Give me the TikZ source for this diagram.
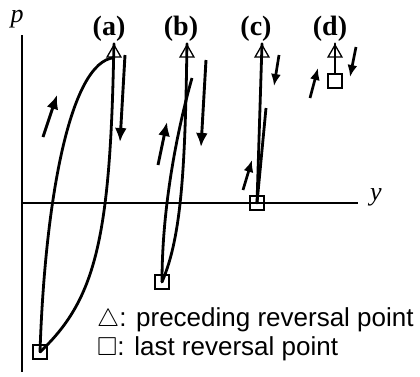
\documentclass[tikz,border=0pt]{standalone}
\usepackage{fontspec}
\usepackage{amssymb}
\setmainfont{Liberation Serif}
\newfontfamily\legfont{Liberation Sans}
\usetikzlibrary{arrows.meta,shapes.geometric}
\begin{document}
\begin{tikzpicture}[x=1pt,y=-1pt,
  curve/.style={line width=2.8pt},
  axisline/.style={line width=1.3pt},
  marksq/.style={draw,line width=1.2pt,rectangle,minimum size=14pt,inner sep=0pt},
  marktri/.style={draw,line width=1.3pt,regular polygon,regular polygon sides=3,minimum size=16pt,inner sep=0pt},
  bigarr/.style={line width=2.9pt,-{Latex[length=14pt,width=12pt]}},
  smallarr/.style={line width=2.7pt,-{Latex[length=12pt,width=10pt]}},
  lab/.style={font=\fontsize{28}{28}\selectfont\bfseries,inner sep=0pt},
  axlab/.style={font=\fontsize{26}{26}\selectfont\itshape,inner sep=0pt},
  leg/.style={font=\legfont\fontsize{26}{26}\selectfont,anchor=west,inner sep=0pt}
]
\useasboundingbox (0,0) rectangle (420,376);
% axes
\coordinate (ytop) at (22,35);
\coordinate (ybot) at (22,372);
\coordinate (o) at (22,203);
\coordinate (xend) at (358,203);
\draw[axisline] (ytop) -- (ybot);
\draw[axisline] (o) -- (xend);
\node[axlab] (plab) at (17,19) {p};
\node[axlab] (ylab) at (376,197) {y};
% labels
\node[lab] (la) at (109,29) {(a)};
\node[lab] (lb) at (181,29) {(b)};
\node[lab] (lc) at (256,29) {(c)};
\node[lab] (ld) at (330,29) {(d)};
% markers
\node[marksq] (sqa) at (40,352) {};
\node[marksq] (sqb) at (162,282) {};
\node[marksq] (sqc) at (257,203) {};
\node[marksq] (sqd) at (335,81) {};
\node[marktri] (tria) at (114,53) {};
\node[marktri] (trib) at (187,53) {};
\node[marktri] (tric) at (262,53) {};
\node[marktri] (trid) at (335,53) {};
\coordinate (btop) at (192,78);
\coordinate (ctop) at (266,108);
% curves
\draw[curve] (sqa.center) .. controls (45,200) and (70,62) .. (tria.south);
\draw[curve,line cap=round] (tria.corner 1) -- ++(-0.3,10) .. controls (110,240) and (95,300) .. (sqa.center);
\draw[curve] (sqb.center) .. controls (162,200) and (180,120) .. (btop);
\draw[curve,line cap=round] (trib.corner 1) -- ++(-0.2,10) .. controls (185,180) and (180,240) .. (sqb.center);
\draw[curve,line cap=round] (tric.corner 1) -- (sqc.center);
\draw[curve] (sqc.center) -- (ctop);
\draw[curve,line cap=round] (sqd.north) -- (trid.corner 1);
% arrows
\coordinate (aus) at (43,137); \coordinate (aue) at (57,95);
\coordinate (ads) at (125,55); \coordinate (ade) at (120,142);
\coordinate (bus) at (158,165); \coordinate (bue) at (167,122);
\coordinate (bds) at (206,60); \coordinate (bde) at (201,147);
\coordinate (cus) at (243,190); \coordinate (cue) at (252,160);
\coordinate (cds) at (279,55); \coordinate (cde) at (274,86);
\coordinate (dus) at (310,98); \coordinate (due) at (318,68);
\coordinate (dds) at (356,47); \coordinate (dde) at (350,77);
\draw[bigarr] (aus) -- (aue);
\draw[bigarr] (ads) -- (ade);
\draw[bigarr] (bus) -- (bue);
\draw[bigarr] (bds) -- (bde);
\draw[smallarr] (cus) -- (cue);
\draw[smallarr] (cds) -- (cde);
\draw[smallarr] (dus) -- (due);
\draw[smallarr] (dds) -- (dde);
% legend
\node[leg] (leg1) at (97,320) {$\triangle$: preceding reversal point};
\node[leg] (leg2) at (97,349) {$\square$: last reversal point};
\end{tikzpicture}
\end{document}
